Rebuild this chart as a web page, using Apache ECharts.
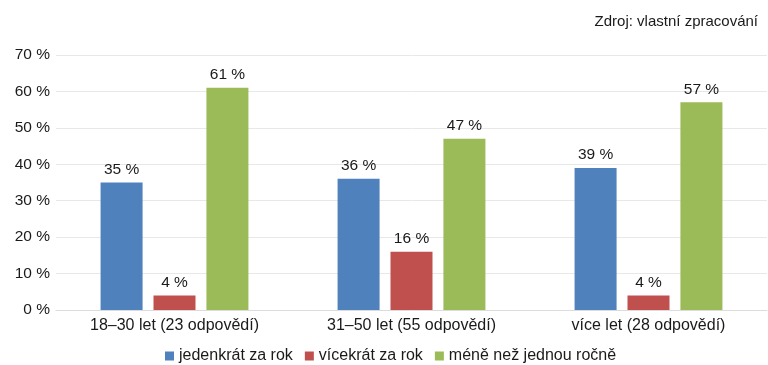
<!DOCTYPE html>
<html>
<head>
<meta charset="utf-8">
<script src="https://cdn.jsdelivr.net/npm/echarts@6/dist/echarts.min.js"></script>
<style>
  html, body { margin: 0; padding: 0; background: #fff; }
  #chart { width: 768px; height: 365px; }
</style>
</head>
<body>
<div id="chart"></div>
<script>
// Age groups (with number of answers) and share of respondents per answer
const categories = ['18–30 let (23 odpovědí)', '31–50 let (55 odpovědí)', 'více let (28 odpovědí)'];
const seriesNames = ['jedenkrát za rok', 'vícekrát za rok', 'méně než jednou ročně'];
const onceAYear = [35, 36, 39];
const severalTimes = [4, 16, 4];
const lessThanOnce = [61, 47, 57];
const yTicks = [0, 10, 20, 30, 40, 50, 60, 70];

const colors = ['#4F81BD', '#C0504D', '#9BBB59'];
const font = 'Liberation Sans, Arial, sans-serif';
const fs = 15.5;

const chart = echarts.init(document.getElementById('chart'), null, { renderer: 'canvas' });

function barSeries(name, data, color) {
  return {
    name: name,
    type: 'bar',
    data: data,
    barWidth: 42,
    barGap: '26%',
    itemStyle: { color: color },
    label: {
      show: true,
      position: 'top',
      distance: 5,
      formatter: p => p.value + ' %',
      color: '#1a1a1a',
      fontFamily: font,
      fontSize: fs
    }
  };
}

chart.setOption({
  animation: false,
  color: colors,
  title: {
    text: 'Zdroj: vlastní zpracování',
    right: 5,
    top: 9,
    textStyle: { fontFamily: font, fontSize: 15, fontWeight: 'normal', color: '#1a1a1a' }
  },
  legend: {
    top: 343,
    left: 160,
    itemWidth: 9,
    itemHeight: 9,
    itemGap: 12,
    icon: 'rect',
    textStyle: { fontFamily: font, fontSize: 16, color: '#1a1a1a' },
    data: seriesNames
  },
  grid: { left: 56, right: 1, top: 55, bottom: 55, containLabel: false },
  xAxis: {
    type: 'category',
    data: categories,
    axisTick: { show: false },
    axisLine: { show: true, lineStyle: { color: '#dcdcdc', width: 1 } },
    axisLabel: { fontFamily: font, fontSize: 16, color: '#1a1a1a', margin: 8 }
  },
  yAxis: {
    type: 'value',
    min: yTicks[0],
    max: yTicks[yTicks.length - 1],
    interval: 10,
    axisLine: { show: false },
    axisTick: { show: false },
    splitLine: { lineStyle: { color: '#e8e8e8', width: 1 } },
    axisLabel: {
      fontFamily: font, fontSize: fs, color: '#1a1a1a', margin: 6,
      formatter: v => v + ' %'
    }
  },
  series: [
    barSeries(seriesNames[0], onceAYear, colors[0]),
    barSeries(seriesNames[1], severalTimes, colors[1]),
    barSeries(seriesNames[2], lessThanOnce, colors[2])
  ]
});
</script>
</body>
</html>
